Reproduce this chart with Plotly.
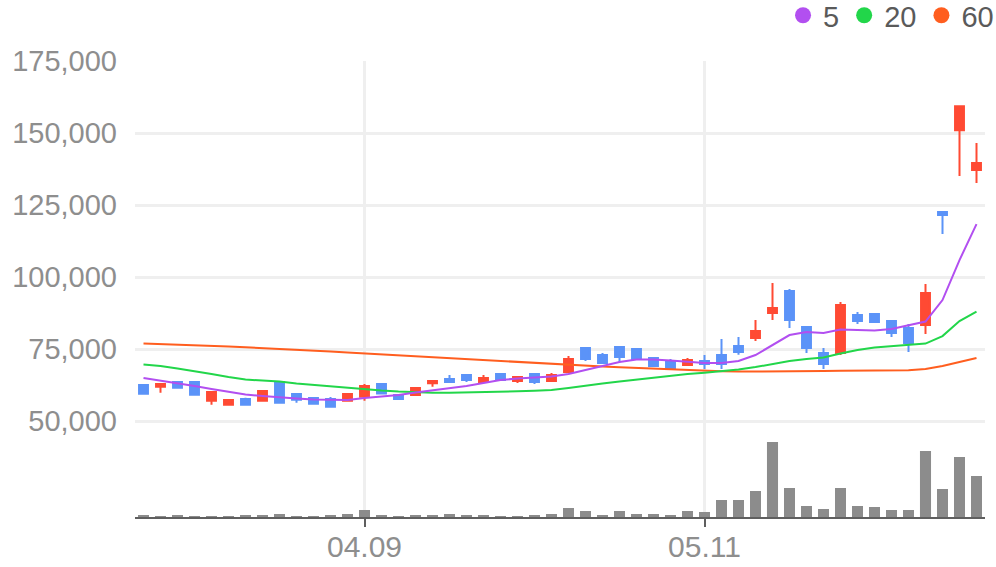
import plotly.graph_objects as go

dates = ["03.23", "03.24", "03.25", "03.26", "03.27", "03.30", "03.31", "04.01", "04.02", "04.03",
         "04.06", "04.07", "04.08", "04.09", "04.10", "04.13", "04.14", "04.15", "04.16", "04.17",
         "04.20", "04.21", "04.22", "04.23", "04.24", "04.27", "04.28", "04.29", "04.30", "05.04",
         "05.06", "05.07", "05.08", "05.11", "05.12", "05.13", "05.14", "05.15", "05.18", "05.19",
         "05.20", "05.21", "05.22", "05.25", "05.26", "05.27", "05.28", "05.29", "06.01", "06.02"]

open_ = [62500, 61900, 63540, 63540, 57050, 55660, 57640, 57050, 63540, 59370,
         57990, 57640, 57050, 58440, 62850, 59030, 59030, 63090, 64580, 65970,
         63540, 66320, 63890, 66320, 63890, 67010, 75350, 72920, 75690, 75000,
         71880, 70830, 69440, 70830, 72920, 76040, 78820, 87500, 95140, 82640,
         73610, 73610, 86810, 87150, 84720, 82290, 83330, 122570, 151040, 137150]
high = [62800, 62850, 63540, 63540, 60070, 57640, 58100, 60420, 63540, 59370,
        57990, 58330, 59370, 62850, 62850, 59030, 61460, 63890, 65970, 65970,
        65970, 66320, 65280, 66320, 66670, 72570, 75690, 73610, 75690, 75000,
        71880, 71530, 71880, 72920, 78470, 79170, 85070, 97920, 95830, 82640,
        75350, 91320, 87850, 87500, 84720, 83680, 97570, 122570, 159370, 146530]
low = [59500, 59830, 61560, 59130, 55660, 55660, 55660, 57050, 56000, 56350,
       55660, 54970, 57050, 57050, 59600, 57290, 59030, 61900, 63190, 63540,
       63540, 64240, 63190, 62850, 63540, 66670, 70830, 69790, 70490, 71530,
       69100, 68060, 69440, 68060, 68060, 73020, 77780, 85070, 82290, 73610,
       68060, 72920, 83680, 84380, 79170, 73960, 80210, 114930, 135070, 132640]
close = [59500, 62850, 61560, 59130, 60070, 57290, 55660, 60420, 56350, 57400,
         56000, 54970, 59370, 62150, 59600, 57640, 61460, 63890, 63540, 64240,
         64930, 64240, 65280, 63540, 65970, 71530, 71530, 70140, 72220, 71530,
         69100, 68060, 71180, 69790, 69790, 73960, 81250, 89240, 85070, 75350,
         69790, 90280, 84720, 84380, 80560, 77080, 94440, 121530, 159370, 139580]

volume = [40000, 20000, 40000, 20000, 20000, 20000, 40000, 40000, 60000, 20000,
          20000, 40000, 60000, 140000, 40000, 20000, 40000, 40000, 60000, 40000,
          40000, 20000, 20000, 40000, 60000, 180000, 120000, 40000, 120000, 60000,
          60000, 40000, 120000, 100000, 340000, 340000, 520000, 1500000, 580000, 220000,
          160000, 580000, 220000, 200000, 140000, 140000, 1320000, 560000, 1200000, 820000]

ma5 = [64930, 64060, 63020, 62150, 61110, 60240, 59200, 58680, 58160, 57810,
       57470, 57290, 57290, 57990, 58510, 59030, 59900, 60590, 61280, 62150,
       63190, 64240, 64760, 65100, 65450, 66320, 67710, 69100, 70490, 71350,
       71350, 71010, 70490, 70140, 70140, 70830, 72920, 76390, 79860, 80900,
       80560, 81770, 81600, 81420, 81940, 83330, 84550, 92010, 105900, 118400]
ma20 = [69620, 69100, 68230, 67360, 66320, 65280, 64410, 64060, 63720, 63020,
        62500, 61980, 61460, 60940, 60590, 60240, 59970, 59830, 59830, 59900,
        60000, 60140, 60310, 60490, 60760, 61460, 62330, 63020, 63720, 64410,
        65100, 65800, 66320, 66770, 67360, 67880, 68750, 69790, 70830, 71530,
        72050, 73440, 74650, 75520, 76040, 76390, 76910, 79510, 84720, 88020]
ma60 = [76910, 76740, 76560, 76390, 76150, 75870, 75590, 75350, 75070, 74790,
        74480, 74130, 73780, 73440, 73090, 72810, 72500, 72220, 71880, 71530,
        71180, 70830, 70490, 70140, 69790, 69440, 69170, 68920, 68650, 68400,
        68130, 67880, 67640, 67470, 67290, 67190, 67190, 67260, 67330, 67360,
        67360, 67470, 67540, 67600, 67640, 67640, 68060, 69100, 70490, 71880]

ma_names = ["5", "20", "60"]
ma_colors = ["#B24FF0", "#22D64A", "#FF5E1F"]
price_ticks = [50000, 75000, 100000, 125000, 150000, 175000]
date_ticks = ["04.09", "05.11"]

UP = "#FF4A33"
DOWN = "#5B93F8"
GRID = "#EFEFEF"
LABEL = "#8E8E8E"
FONT = "Liberation Sans, Arial, sans-serif"

fig = go.Figure()

fig.add_trace(go.Bar(
    x=dates, y=volume, yaxis="y2", marker=dict(color="#8C8C8C", line=dict(width=0)),
    showlegend=False, hoverinfo="skip"))

for vals, name, col in zip([ma60, ma20, ma5], ma_names[::-1], ma_colors[::-1]):
    fig.add_trace(go.Scatter(
        x=dates, y=vals, mode="lines", line=dict(color=col, width=2),
        showlegend=False, hoverinfo="skip"))

fig.add_trace(go.Candlestick(
    x=dates, open=open_, high=high, low=low, close=close,
    increasing=dict(line=dict(color=UP, width=2), fillcolor=UP),
    decreasing=dict(line=dict(color=DOWN, width=2), fillcolor=DOWN),
    whiskerwidth=0, showlegend=False))

# legend entries (circle markers)
for name, col in zip(ma_names, ma_colors):
    fig.add_trace(go.Scatter(
        x=[None], y=[None], mode="markers", name=name,
        marker=dict(color=col, size=17, symbol="circle"), showlegend=True))

vol_top = max(volume) * 456 / 75

fig.update_layout(
    width=996, height=567,
    margin=dict(l=135, r=11, t=61, b=50, autoexpand=False),
    paper_bgcolor="white", plot_bgcolor="white",
    font=dict(family=FONT, size=29, color=LABEL),
    boxgap=0.25, bargap=0.35,
    showlegend=True,
    legend=dict(orientation="h", x=1.0165, xanchor="right", y=1.1, yanchor="middle",
                font=dict(size=29, color="#5A5A5A"), bgcolor="rgba(0,0,0,0)",
                itemwidth=30, traceorder="normal"),
    xaxis=dict(
        type="category", categoryorder="array", categoryarray=dates,
        range=[-0.5, len(dates) - 0.5],
        tickmode="array", tickvals=date_ticks, ticktext=date_ticks,
        showgrid=True, gridcolor=GRID, gridwidth=3,
        showline=True, linecolor="#5F5F5F", linewidth=2,
        ticks="outside", ticklen=8, tickwidth=2, tickcolor="#5F5F5F",
        tickfont=dict(size=30, color=LABEL), ticklabelstandoff=-6,
        rangeslider=dict(visible=False), zeroline=False, fixedrange=True),
    yaxis=dict(
        range=[16667, 175050], tickmode="array", tickvals=price_ticks,
        tickformat=",", showgrid=True, gridcolor=GRID, gridwidth=3,
        zeroline=False, showline=False, ticks="",
        tickfont=dict(size=29, color=LABEL), ticklabelstandoff=17),
    yaxis2=dict(
        overlaying="y", range=[0, vol_top], showgrid=False, showticklabels=False,
        zeroline=False, showline=False, ticks=""),
)

fig.write_html("out.html")
